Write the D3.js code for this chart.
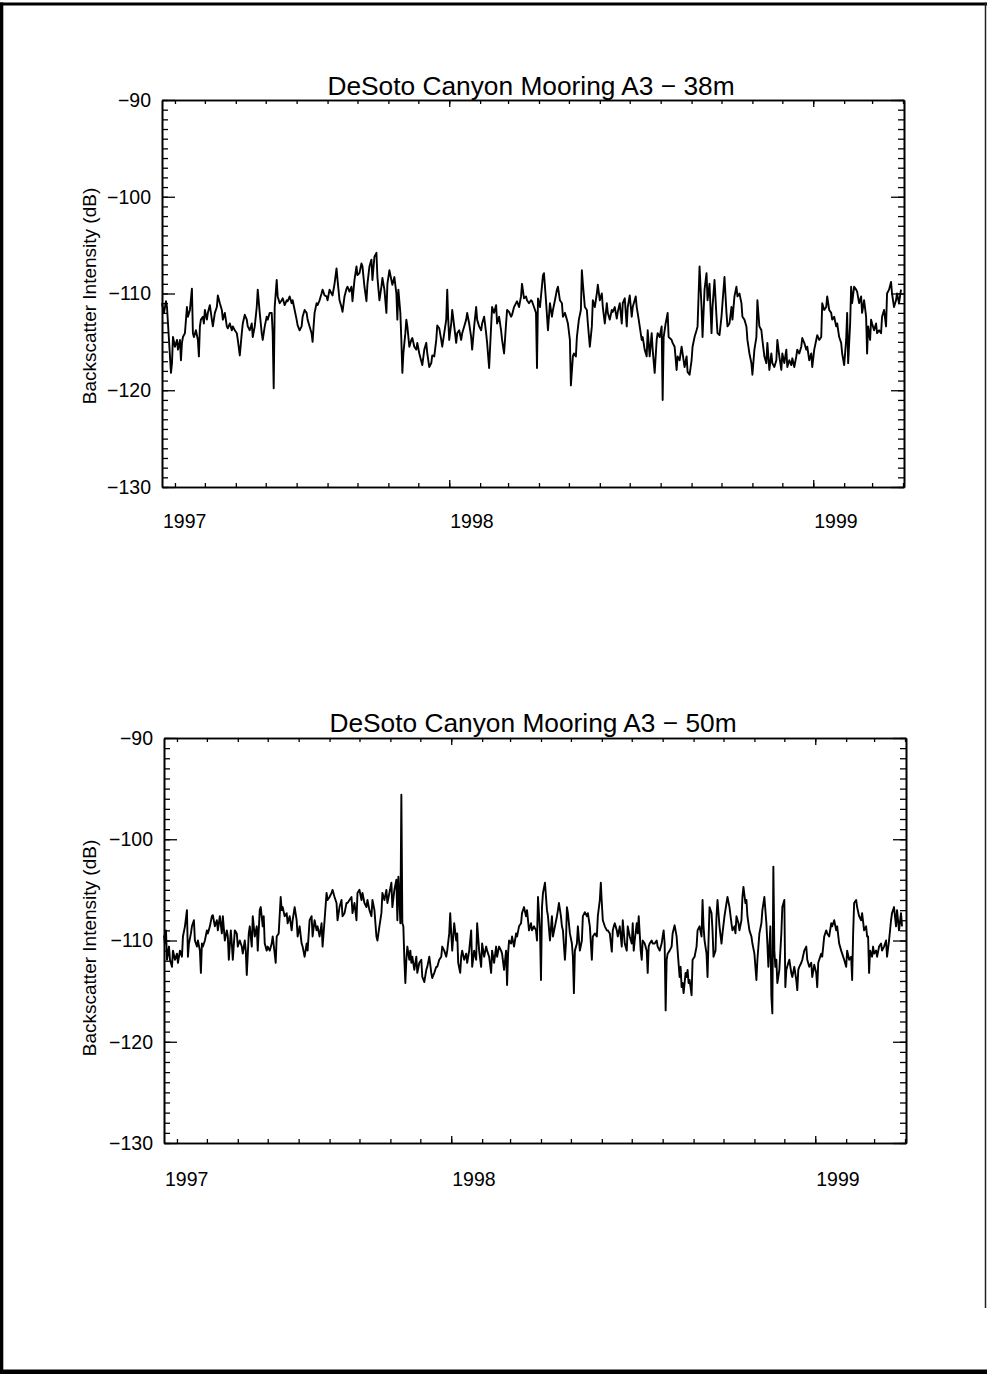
<!DOCTYPE html>
<html>
<head>
<meta charset="utf-8">
<script src="https://cdn.jsdelivr.net/npm/d3@7/dist/d3.min.js"></script>
<style>
  html, body { margin: 0; padding: 0; background: #fff; }
  svg { display: block; }
  text { font-family: "Liberation Sans", Arial, Helvetica, sans-serif; fill: #000; }
</style>
</head>
<body>
<svg id="page" width="987" height="1374"></svg>
<script>
// Record window: days are counted from the first sample of the deployment.
const recordStart = "1997-03-19";
const recordEnd = "1999-04-02";

// Axis labels
const titles = ["DeSoto Canyon Mooring A3 \u2212 38m", "DeSoto Canyon Mooring A3 \u2212 50m"];
const yAxisTitle = "Backscatter Intensity (dB)";
const yMajorTicks = [-90, -100, -110, -120, -130];
const yearLabels = [1997, 1998, 1999];

// 38 m bin: day of record, backscatter (dB)
const days38 = [0,2,4,5,7,9,10,11,13,15,16,18,19,20,21,23,25,26,28,30,31,32,34,36,37,38,39,41,42,43,45,46,48,50,51,53,55,56,58,60,61,63,65,66,68,70,71,73,75,76,78,80,81,83,85,86,88,90,91,93,95,96,98,100,101,103,105,106,108,110,111,112,113,115,116,118,120,121,123,125,126,128,130,131,133,135,136,138,140,141,143,145,146,148,150,151,152,153,155,156,158,160,161,163,165,166,168,170,171,173,175,176,178,180,181,183,185,186,188,190,191,193,195,196,198,200,201,203,205,206,208,210,211,213,215,216,218,220,221,223,225,226,228,230,231,233,235,236,237,239,240,241,242,244,245,246,248,250,251,253,255,256,258,260,261,263,265,266,268,270,271,273,275,276,278,280,281,283,285,286,287,288,290,291,293,295,296,298,300,301,303,305,306,308,310,311,313,315,316,318,320,321,323,325,326,328,330,331,333,335,336,338,340,341,343,345,346,348,350,351,353,355,356,358,360,361,363,365,366,368,370,371,373,375,376,377,379,382,383,385,387,389,391,392,394,396,397,399,401,402,404,406,407,409,410,412,413,415,416,418,420,421,422,424,426,427,429,431,432,434,436,437,439,441,442,444,446,447,449,451,452,454,456,457,459,461,462,464,466,467,469,471,472,475,476,478,481,482,484,486,487,489,491,492,494,496,497,499,501,502,503,505,507,508,511,512,514,516,517,519,521,522,524,526,527,529,531,532,534,536,537,539,541,542,544,546,547,549,551,552,554,556,557,559,561,562,564,566,567,569,571,572,574,576,577,579,581,582,584,586,587,589,591,592,594,596,597,599,601,602,604,606,607,609,611,612,614,616,617,619,621,622,624,626,627,629,631,632,634,636,637,639,641,642,644,646,647,649,651,652,654,656,657,659,661,662,664,666,667,669,671,672,674,676,677,679,681,682,684,686,687,688,690,691,692,694,696,697,699,701,702,704,706,707,708,710,711,712,714,716,717,719,721,722,724,726,727,729,731,732,734,736,737,739,741];
const db38 = [-111.0,-112.0,-110.8,-111.4,-114.8,-118.2,-117.2,-114.5,-115.5,-114.8,-115.8,-114.8,-116.9,-115.1,-114.5,-114.1,-111.4,-112.4,-111.7,-109.5,-114.1,-114.5,-113.8,-114.8,-116.5,-113.4,-112.7,-112.4,-113.1,-111.7,-112.7,-112.0,-111.2,-112.7,-113.4,-112.0,-111.4,-110.2,-111.0,-111.7,-112.7,-112.0,-113.4,-113.6,-113.1,-113.8,-113.4,-113.8,-114.1,-114.8,-116.4,-114.1,-113.1,-112.2,-112.7,-113.4,-113.8,-113.1,-114.5,-113.4,-111.4,-109.6,-112.0,-114.1,-114.8,-113.4,-112.4,-112.7,-112.0,-112.0,-114.1,-119.8,-111.4,-108.6,-110.3,-111.0,-110.7,-110.5,-111.2,-110.7,-110.8,-110.3,-111.0,-110.7,-111.7,-112.7,-113.3,-113.8,-113.4,-112.4,-111.7,-112.0,-112.7,-113.4,-114.1,-115.0,-113.4,-112.0,-111.0,-111.2,-110.7,-110.0,-109.6,-110.2,-110.3,-110.7,-109.6,-110.0,-110.2,-109.0,-107.4,-108.6,-110.7,-111.4,-111.9,-110.3,-109.5,-109.3,-109.8,-109.3,-110.8,-108.6,-107.2,-108.1,-107.9,-106.9,-107.2,-109.3,-110.8,-109.0,-107.2,-106.5,-108.6,-106.2,-105.8,-108.3,-110.7,-109.3,-108.4,-109.6,-112.0,-109.0,-107.6,-108.6,-109.1,-108.3,-110.0,-112.7,-109.6,-112.0,-114.8,-118.2,-116.2,-114.1,-112.7,-113.4,-115.5,-114.8,-114.6,-115.5,-115.8,-115.1,-116.2,-117.0,-117.4,-115.8,-115.1,-116.2,-117.6,-117.2,-116.4,-116.5,-114.8,-113.3,-113.6,-114.8,-115.5,-114.1,-112.7,-109.6,-112.7,-114.8,-113.1,-111.7,-113.4,-115.1,-114.1,-113.8,-114.8,-114.1,-113.4,-112.7,-112.0,-113.1,-114.5,-115.8,-113.4,-111.4,-112.7,-113.4,-113.8,-113.1,-112.4,-114.1,-115.1,-117.7,-113.4,-111.4,-112.0,-111.2,-113.1,-112.4,-113.8,-114.8,-116.2,-113.1,-111.7,-111.9,-112.4,-112.2,-111.4,-111.0,-110.8,-111.4,-110.3,-109.0,-110.5,-110.3,-110.7,-111.0,-110.7,-110.8,-111.4,-112.0,-117.7,-110.5,-111.4,-108.1,-107.9,-110.7,-113.8,-111.0,-112.4,-111.7,-110.7,-109.6,-109.3,-110.7,-111.0,-112.4,-112.0,-112.7,-113.1,-114.8,-119.5,-116.5,-116.2,-116.5,-114.5,-112.7,-111.7,-107.6,-109.0,-111.4,-111.7,-113.1,-115.5,-113.4,-110.7,-111.4,-110.0,-109.1,-110.7,-110.0,-111.4,-113.1,-111.0,-112.0,-112.7,-111.7,-111.9,-111.4,-112.6,-111.9,-111.0,-113.1,-111.0,-110.5,-113.4,-111.4,-110.2,-112.4,-111.4,-110.3,-111.4,-112.7,-114.8,-114.5,-115.8,-116.5,-113.8,-116.5,-114.1,-115.8,-118.2,-114.8,-114.1,-114.5,-113.4,-121.0,-114.5,-113.1,-112.0,-114.5,-114.8,-115.1,-115.5,-117.9,-116.5,-116.9,-115.5,-116.2,-117.6,-116.5,-118.1,-118.4,-116.9,-115.5,-114.5,-113.8,-113.4,-107.2,-111.4,-114.5,-109.6,-107.9,-110.7,-109.0,-114.1,-111.4,-108.6,-112.4,-114.1,-114.3,-112.4,-111.0,-108.3,-112.0,-113.4,-113.1,-111.4,-112.7,-110.3,-109.3,-110.3,-110.0,-111.0,-112.4,-112.7,-113.4,-114.8,-116.2,-117.2,-118.4,-115.8,-114.5,-110.7,-113.4,-113.8,-114.8,-116.5,-117.2,-115.1,-117.9,-116.2,-117.2,-117.6,-116.9,-114.8,-116.5,-117.9,-116.2,-117.2,-115.8,-117.6,-116.9,-117.4,-116.7,-117.6,-116.5,-115.8,-116.2,-115.5,-114.6,-115.1,-115.8,-115.5,-116.9,-116.2,-117.6,-115.8,-114.8,-114.3,-114.8,-114.5,-111.0,-111.7,-111.4,-110.3,-111.7,-112.0,-112.7,-112.4,-113.4,-113.1,-114.5,-115.1,-116.2,-117.4,-114.8,-112.0,-117.2,-113.1,-109.3,-111.0,-109.3,-109.6,-109.8,-111.0,-110.3,-112.0,-110.7,-112.4,-116.2,-113.4,-114.8,-112.7,-113.1,-113.8,-113.1,-114.1,-113.8,-114.1,-112.4,-111.7,-113.4,-110.0,-109.6,-108.8,-110.0,-111.4,-110.7,-110.0,-111.0,-109.6];

// 50 m bin: day of record, backscatter (dB)
const days50 = [0,1,2,3,5,6,8,9,11,13,14,16,18,19,21,23,24,25,27,28,30,31,33,34,36,37,38,39,41,43,44,46,48,49,51,53,54,56,58,59,61,63,64,65,67,68,69,71,73,74,76,78,79,81,82,83,85,86,88,89,91,93,94,96,97,99,100,101,103,104,106,108,109,111,112,113,115,117,118,119,121,123,124,126,128,129,131,133,134,136,138,139,141,143,144,146,148,149,151,153,154,156,158,159,161,163,164,166,168,169,171,173,174,176,178,179,181,183,184,186,188,189,191,193,194,196,198,199,201,203,204,206,208,209,211,213,214,216,218,219,221,223,224,226,228,229,231,233,234,235,237,238,239,240,241,242,243,244,246,247,248,249,251,253,254,256,258,259,261,263,264,266,268,269,271,273,274,276,278,279,281,283,284,286,287,288,289,291,293,294,295,297,298,299,301,303,304,306,308,309,311,313,314,316,318,319,321,323,324,326,328,329,331,333,334,336,338,339,341,343,344,345,346,348,349,351,353,354,356,358,359,361,363,364,366,368,369,371,373,374,375,377,378,379,380,382,384,385,387,389,390,392,394,395,396,398,399,400,402,403,404,405,407,409,410,411,412,414,415,417,419,420,422,424,425,427,429,430,432,434,435,437,438,439,440,442,444,445,447,449,450,451,452,454,455,457,459,460,462,464,465,467,469,470,471,472,474,475,476,478,479,480,482,484,485,486,487,489,490,492,494,495,497,499,500,501,502,503,504,505,507,509,510,512,514,515,517,518,519,520,521,523,524,525,526,527,528,529,530,532,534,535,537,539,540,541,542,544,545,546,547,549,550,551,553,554,555,557,559,560,562,564,565,567,569,570,572,573,574,576,577,579,580,581,583,584,585,587,589,590,592,594,595,597,599,600,602,604,605,606,608,609,610,611,612,613,614,615,617,619,620,622,623,624,626,627,629,630,632,634,635,636,637,639,640,642,644,645,647,649,650,652,654,655,656,657,659,660,662,664,665,667,669,670,672,674,675,677,679,680,682,684,685,687,689,690,691,692,694,695,697,699,700,702,704,705,706,707,708,710,711,712,714,715,717,719,720,722,724,725,727,729,730,732,734,735,737,739,740];
const db50 = [-109.5,-110.3,-109.0,-111.9,-110.6,-111.9,-112.6,-111.0,-111.9,-111.3,-112.2,-111.0,-111.6,-109.6,-108.6,-107.0,-111.6,-110.3,-109.3,-108.6,-108.0,-110.0,-110.6,-110.0,-111.0,-113.2,-110.3,-110.6,-110.0,-109.0,-109.3,-108.6,-107.6,-107.5,-108.6,-108.0,-109.0,-107.6,-109.3,-107.6,-110.0,-109.0,-109.6,-111.9,-109.0,-110.3,-111.9,-109.0,-109.3,-110.6,-110.0,-110.6,-111.3,-110.0,-111.0,-113.4,-109.3,-108.6,-110.6,-107.6,-109.6,-108.6,-111.0,-107.0,-106.7,-108.6,-107.6,-110.3,-111.0,-110.6,-111.0,-110.3,-109.6,-111.3,-112.2,-109.6,-109.3,-105.7,-107.0,-106.7,-107.6,-107.3,-108.3,-107.6,-109.0,-108.0,-106.7,-108.0,-109.6,-108.6,-110.3,-110.6,-111.6,-110.3,-111.0,-108.0,-107.6,-109.6,-108.0,-109.0,-108.6,-109.6,-108.3,-110.6,-108.0,-105.3,-106.0,-105.7,-105.3,-105.0,-105.7,-106.3,-108.0,-106.7,-106.0,-107.6,-107.3,-106.3,-106.3,-106.0,-105.7,-107.3,-106.3,-108.0,-105.3,-105.0,-106.0,-105.3,-106.3,-106.7,-106.0,-107.0,-107.6,-106.0,-107.0,-109.6,-110.0,-108.6,-107.3,-105.3,-106.0,-105.0,-106.3,-105.3,-104.3,-106.7,-105.0,-104.0,-108.0,-103.7,-108.3,-95.6,-108.3,-108.6,-111.9,-114.2,-111.9,-110.6,-111.9,-111.0,-112.2,-111.6,-112.9,-111.6,-113.2,-112.2,-111.9,-113.6,-114.1,-112.9,-112.6,-111.6,-113.2,-113.7,-113.2,-112.6,-112.6,-111.9,-111.6,-110.6,-111.0,-111.6,-111.0,-109.3,-107.3,-109.3,-111.0,-108.3,-110.0,-109.3,-112.2,-113.2,-111.6,-111.0,-111.9,-111.3,-112.2,-111.0,-109.0,-112.6,-111.0,-111.9,-108.3,-111.0,-112.6,-110.3,-111.6,-110.6,-111.0,-111.6,-113.2,-111.0,-112.2,-110.6,-111.6,-110.6,-111.0,-111.3,-112.9,-111.0,-114.4,-111.3,-110.0,-110.3,-109.6,-110.6,-109.3,-109.6,-108.6,-108.3,-107.3,-106.7,-107.6,-107.0,-109.0,-108.3,-109.0,-108.6,-109.0,-110.0,-105.7,-109.0,-113.9,-106.7,-105.3,-104.3,-107.0,-107.6,-110.0,-107.6,-109.6,-108.6,-107.6,-107.0,-106.3,-107.6,-108.6,-109.0,-111.9,-110.3,-106.7,-107.3,-109.3,-110.3,-111.6,-115.2,-111.0,-110.3,-108.6,-111.0,-110.0,-107.6,-107.2,-107.6,-107.3,-108.6,-111.9,-109.6,-109.3,-109.6,-107.6,-106.0,-104.3,-106.3,-108.0,-108.6,-109.0,-109.0,-109.3,-111.1,-109.0,-108.6,-108.3,-109.0,-109.6,-108.6,-110.6,-108.0,-110.3,-111.0,-108.6,-109.6,-110.3,-108.3,-111.0,-110.0,-108.3,-109.3,-107.6,-111.0,-111.9,-110.0,-110.3,-111.0,-113.2,-110.6,-110.3,-110.0,-110.3,-110.3,-110.0,-110.6,-111.0,-110.3,-109.6,-109.0,-110.3,-116.9,-111.9,-111.3,-111.0,-110.6,-109.3,-108.5,-109.6,-111.0,-113.6,-112.6,-114.6,-114.2,-115.2,-113.2,-113.6,-112.9,-114.2,-113.9,-114.6,-115.4,-111.9,-111.6,-110.6,-109.0,-108.6,-109.6,-106.0,-108.6,-110.0,-111.3,-113.6,-110.0,-106.7,-107.3,-109.0,-111.6,-111.0,-107.6,-106.0,-108.6,-110.3,-109.3,-107.6,-106.3,-105.7,-106.7,-108.3,-109.0,-108.6,-109.3,-107.6,-108.3,-109.0,-108.0,-105.7,-104.7,-106.3,-106.0,-107.6,-109.0,-109.6,-110.3,-111.3,-113.9,-111.9,-109.3,-108.3,-107.0,-105.7,-108.3,-110.3,-112.6,-108.6,-115.5,-117.2,-102.7,-111.0,-112.6,-111.9,-114.2,-112.9,-109.3,-106.7,-106.0,-114.6,-112.9,-112.2,-111.9,-113.2,-113.6,-112.6,-113.9,-114.9,-112.9,-112.6,-112.2,-111.9,-111.0,-110.6,-111.9,-112.6,-112.2,-113.6,-112.4,-113.2,-114.6,-112.2,-111.9,-111.3,-111.6,-109.6,-109.0,-109.3,-109.6,-108.3,-108.6,-108.0,-109.0,-108.6,-110.3,-111.0,-111.3,-111.9,-112.6,-111.0,-111.9,-111.6,-113.9,-109.3,-106.3,-106.0,-106.7,-107.6,-108.0,-107.3,-109.0,-108.6,-109.6,-109.6,-113.2,-111.0,-111.6,-110.6,-111.3,-111.0,-111.6,-110.6,-110.3,-111.0,-110.6,-110.0,-111.6,-110.0,-108.0,-107.3,-106.7,-108.6,-107.0,-109.0,-107.3,-108.6];

const panels = [
  { title: titles[0], days: days38, db: db38, box: { left: 162, top: 100, right: 904, bottom: 487 },
    titleY: 95, yTitleX: 96, yTitleY: 296, yearY: 528 },
  { title: titles[1], days: days50, db: db50, box: { left: 164, top: 738, right: 906, bottom: 1143 },
    titleY: 732, yTitleX: 96, yTitleY: 948, yearY: 1186 }
];

const svg = d3.select("#page");
const parseDay = d3.utcParse("%Y-%m-%d");
const t0 = parseDay(recordStart), t1 = parseDay(recordEnd);

// Page frame
const frame = svg.append("g").attr("class", "frame");
frame.append("rect").attr("x", 0).attr("y", 2.5).attr("width", 987).attr("height", 3).attr("fill", "#000");
frame.append("rect").attr("x", 0).attr("y", 2.5).attr("width", 3.3).attr("height", 1371.5).attr("fill", "#000");
frame.append("rect").attr("x", 0).attr("y", 1369.5).attr("width", 987).attr("height", 4.5).attr("fill", "#000");
frame.append("line").attr("x1", 985.5).attr("x2", 985.5).attr("y1", 2.5).attr("y2", 1308)
  .attr("stroke", "#222").attr("stroke-width", 1.5);

panels.forEach(p => {
  const b = p.box;
  const g = svg.append("g");

  const x = d3.scaleUtc().domain([t0, t1]).range([b.left, b.right]);
  const y = d3.scaleLinear().domain([-130, -90]).range([b.bottom, b.top]);

  const minorY = d3.range(-130, -89, 1);
  const months = d3.utcMonth.range(d3.utcMonth.ceil(t0), t1);
  const years = d3.utcYear.range(d3.utcYear.ceil(t0), t1);

  const style = sel => {
    sel.selectAll(".domain").attr("stroke", "#000").attr("stroke-width", 1.6);
    sel.selectAll(".tick line").attr("stroke", "#000").attr("stroke-width", 1.3);
  };

  // Left axis: 1 dB minor ticks, 10 dB labelled ticks, all pointing inward
  g.append("g").attr("transform", `translate(${b.left},0)`)
    .call(d3.axisLeft(y).tickValues(minorY).tickSizeInner(-6).tickSizeOuter(0).tickFormat(""))
    .call(style);
  g.append("g").attr("transform", `translate(${b.left},0)`)
    .call(d3.axisLeft(y).tickValues(yMajorTicks).tickSizeInner(-13).tickSizeOuter(0).tickPadding(11)
      .tickFormat(d3.format("d")))
    .call(style)
    .call(a => a.selectAll("text").attr("font-size", 19.5).attr("font-family", '"Liberation Sans", Arial, sans-serif').attr("fill", "#000"));

  // Right axis mirrors the left ticks
  g.append("g").attr("transform", `translate(${b.right},0)`)
    .call(d3.axisRight(y).tickValues(minorY).tickSizeInner(-6).tickSizeOuter(0).tickFormat(""))
    .call(style);
  g.append("g").attr("transform", `translate(${b.right},0)`)
    .call(d3.axisRight(y).tickValues(yMajorTicks).tickSizeInner(-13).tickSizeOuter(0).tickFormat(""))
    .call(style);

  // Bottom and top axes: monthly ticks, longer at the start of each year
  [["axisBottom", b.bottom], ["axisTop", b.top]].forEach(([fn, pos]) => {
    g.append("g").attr("transform", `translate(0,${pos})`)
      .call(d3[fn](x).tickValues(months).tickSizeInner(-4).tickSizeOuter(0).tickFormat(""))
      .call(style);
    g.append("g").attr("transform", `translate(0,${pos})`)
      .call(d3[fn](x).tickValues(years).tickSizeInner(-7).tickSizeOuter(0).tickFormat(""))
      .call(style);
  });

  // Year labels, left-aligned at the start of each year (first one at the axis start)
  g.append("g").selectAll("text").data(yearLabels).join("text")
    .attr("x", d => Math.max(x(Date.UTC(d, 0, 1)), b.left) + 1)
    .attr("y", p.yearY)
    .attr("font-size", 19.5)
    .attr("text-anchor", "start")
    .text(d => d);

  // Title
  g.append("text")
    .attr("x", (b.left + b.right) / 2 - 2)
    .attr("y", p.titleY)
    .attr("text-anchor", "middle")
    .attr("font-size", 26.3)
    .text(p.title);

  // Y axis title
  g.append("text")
    .attr("transform", `translate(${p.yTitleX},${p.yTitleY}) rotate(-90)`)
    .attr("text-anchor", "middle")
    .attr("font-size", 19)
    .text(yAxisTitle);

  // Backscatter series
  const series = p.days.map((d, i) => ({ t: d3.utcDay.offset(t0, d), v: p.db[i] }));
  g.append("path")
    .datum(series)
    .attr("fill", "none")
    .attr("stroke", "#000")
    .attr("stroke-width", 1.9)
    .attr("stroke-linejoin", "round")
    .attr("d", d3.line().x(d => x(d.t)).y(d => y(d.v)));
});
</script>
</body>
</html>
